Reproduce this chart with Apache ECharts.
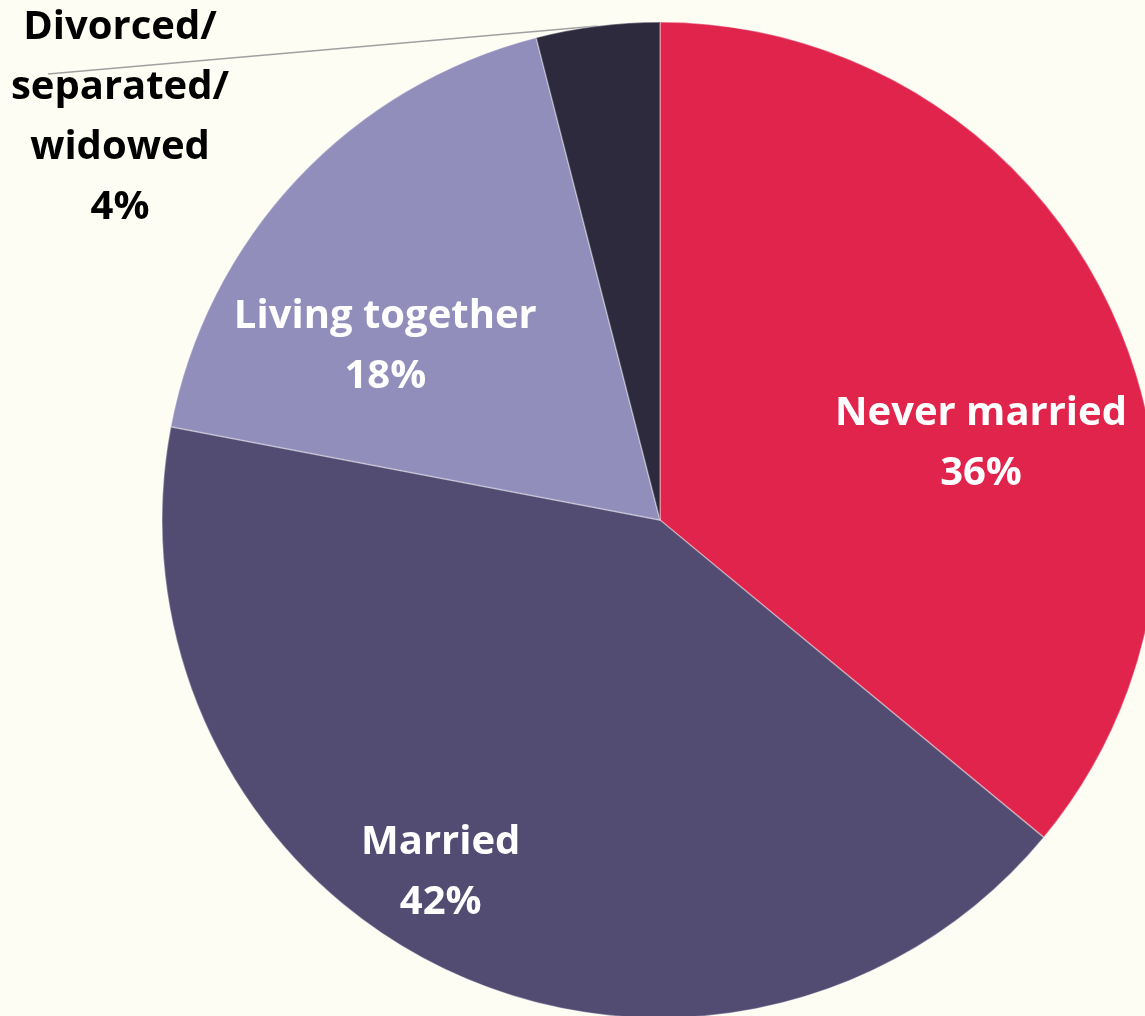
<!DOCTYPE html>
<html>
<head>
<meta charset="utf-8">
<script src="https://cdn.jsdelivr.net/npm/echarts@6/dist/echarts.min.js"></script>
<style>
html,body{margin:0;padding:0;background:#FDFDF4;}
#chart{width:1145px;height:1016px;}
</style>
</head>
<body>
<div id="chart"></div>
<script>
// Data
const categories = ['Never married', 'Married', 'Living together', 'Divorced/\nseparated/\nwidowed'];
const values = [36, 42, 18, 4];

// Styling (kept separate from data)
const colors = ['#E0244C', '#524C73', '#928EBB', '#2D2A3E'];
const labelOffsets = [[93, 31], [-112, 125], [-91, -1], null];

const chart = echarts.init(document.getElementById('chart'), null, {renderer: 'canvas'});

const data = categories.map((name, i) => {
  const item = {
    name: name,
    value: values[i],
    itemStyle: {color: colors[i]}
  };
  if (labelOffsets[i]) {
    item.label = {position: 'inside', offset: labelOffsets[i], color: '#FFFFFF'};
    item.labelLine = {show: false};
  } else {
    item.label = {position: 'outside', color: '#000000'};
    item.labelLine = {show: true, length: 10, length2: 10, lineStyle: {color: '#A0A0A0', width: 1.5}};
  }
  return item;
});

const option = {
  backgroundColor: '#FDFDF4',
  animation: false,
  series: [{
    type: 'pie',
    center: [660, 520],
    radius: 498,
    startAngle: 90,
    clockwise: true,
    avoidLabelOverlap: false,
    itemStyle: {borderColor: 'rgba(255,255,255,0.35)', borderWidth: 1.5},
    label: {
      show: true,
      formatter: '{b}\n{c}%',
      fontFamily: 'Open Sans',
      fontWeight: 'bold',
      fontSize: 40,
      lineHeight: 60,
      align: 'center'
    },
    labelLayout: function (params) {
      if (params.dataIndex !== 3) return {};
      const cx = 120, cy = 118;
      const p0 = params.labelLinePoints ? params.labelLinePoints[0] : null;
      const res = {x: cx, y: cy, align: 'center', verticalAlign: 'middle'};
      if (p0) {
        const end = [cx - 72, cy - 44];
        res.labelLinePoints = [p0, end, end];
      }
      return res;
    },
    data: data
  }]
};
chart.setOption(option);
</script>
</body>
</html>
